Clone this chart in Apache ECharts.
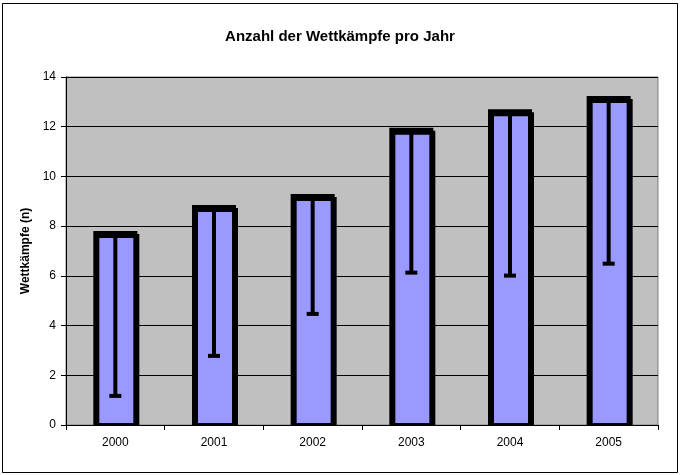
<!DOCTYPE html>
<html>
<head>
<meta charset="utf-8">
<script src="https://cdn.jsdelivr.net/npm/echarts@6/dist/echarts.min.js"></script>
<style>html,body{margin:0;padding:0;background:#fff;}#c{width:680px;height:475px;}</style>
</head>
<body>
<div id="c"></div>
<script>
const categories = ['2000', '2001', '2002', '2003', '2004', '2005'];
const counts = [7.72, 8.77, 9.21, 11.88, 12.62, 13.16];
const errorLow = [1.17, 2.78, 4.47, 6.13, 6.01, 6.49];
const yTicks = [0, 2, 4, 6, 8, 10, 12, 14];

const barData = categories.map((c, i) => [i, counts[i]]);
const errData = categories.map((c, i) => [i, counts[i], errorLow[i]]);

const chart = echarts.init(document.getElementById('c'), null, {renderer: 'canvas'});
const font = 'Liberation Sans, Arial, sans-serif';
chart.setOption({
  animation: false,
  backgroundColor: '#fff',
  title: {
    text: 'Anzahl der Wettkämpfe pro Jahr',
    left: 'center', top: 24,
    textStyle: {fontFamily: font, fontSize: 15, fontWeight: 'bold', color: '#000'}
  },
  graphic: [{
    type: 'rect', shape: {x: 2.5, y: 3.5, width: 675, height: 469},
    style: {fill: 'none', stroke: '#000', lineWidth: 1}, z: -10, silent: true
  }],
  grid: {left: 66, right: 22, top: 77, bottom: 50, show: true, backgroundColor: '#C0C0C0', borderColor: '#808080', borderWidth: 1},
  xAxis: {
    type: 'category', data: categories,
    axisLine: {lineStyle: {color: '#000', width: 1}},
    axisTick: {show: true, length: 5, lineStyle: {color: '#000'}},
    axisLabel: {fontFamily: font, fontSize: 12, color: '#000', margin: 12},
    z: 10
  },
  yAxis: {
    type: 'value', min: yTicks[0], max: yTicks[yTicks.length - 1], interval: 2,
    name: 'Wettkämpfe (n)', nameLocation: 'middle', nameGap: 34,
    nameTextStyle: {fontFamily: font, fontSize: 12, fontWeight: 'bold', color: '#000'},
    axisLine: {show: true, lineStyle: {color: '#000', width: 1}},
    axisTick: {show: true, length: 5, lineStyle: {color: '#000'}},
    axisLabel: {fontFamily: font, fontSize: 12, color: '#000', margin: 10},
    splitLine: {show: true, lineStyle: {color: '#000', width: 1}}
  },
  series: [{
    type: 'custom', data: barData, z: 2, clip: true,
    renderItem: function (params, api) {
      const x = api.value(0);
      const top = api.coord([x, api.value(1)]);
      const base = api.coord([x, 0]);
      const w = 40;
      return {
        type: 'rect',
        shape: {x: top[0] - w / 2, y: top[1], width: w, height: base[1] - top[1]},
        style: {fill: '#9999FF', stroke: '#000', lineWidth: 4,
          shadowColor: '#000', shadowBlur: 0, shadowOffsetX: 2, shadowOffsetY: 3}
      };
    }
  }, {
    type: 'custom', data: errData, z: 5,
    renderItem: function (params, api) {
      const x = api.value(0);
      const top = api.coord([x, api.value(1)]);
      const low = api.coord([x, api.value(2)]);
      return {
        type: 'group',
        children: [{
          type: 'line', shape: {x1: top[0], y1: top[1], x2: low[0], y2: low[1]},
          style: {stroke: '#000', lineWidth: 4}
        }, {
          type: 'line', shape: {x1: low[0] - 6, y1: low[1], x2: low[0] + 6, y2: low[1]},
          style: {stroke: '#000', lineWidth: 4}
        }]
      };
    }
  }]
});
</script>
</body>
</html>
